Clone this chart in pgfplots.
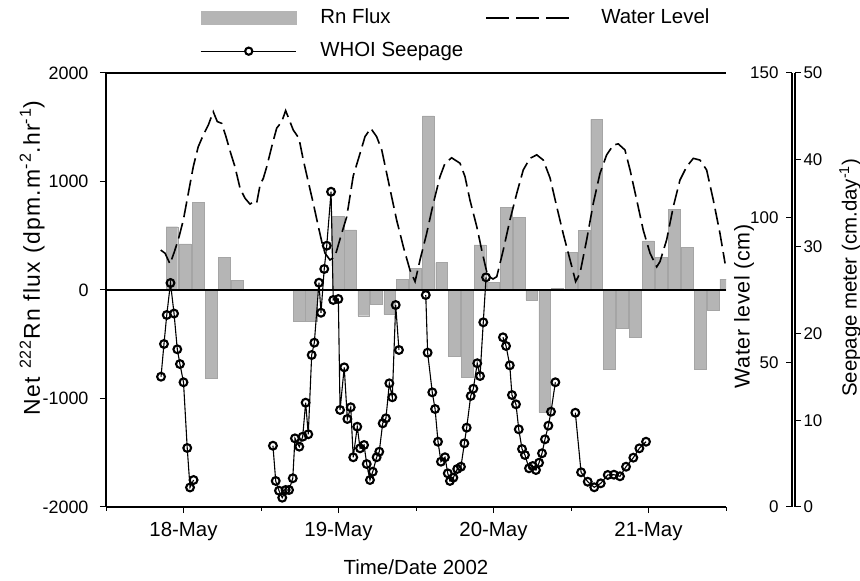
\documentclass[border=0pt]{standalone}
\usepackage{fontspec}
\setmainfont{Liberation Sans}
\usepackage{pgfplots}
\pgfplotsset{compat=1.18}
\definecolor{barfill}{RGB}{181,181,181}
\definecolor{baredge}{RGB}{165,165,165}
\newcommand{\lab}{\fontsize{20.5}{24}\selectfont}
\newcommand{\ticksize}{\fontsize{18}{21}\selectfont}
\newcommand{\rticksize}{\fontsize{17}{20}\selectfont}
\pgfplotsset{
  seep/.style={black, line width=1.1bp, mark=o, mark size=3.9bp,
    mark options={black, line width=2.1bp, fill=white}},
}

% Rn flux, 2-hourly bars (day of May, dpm/m2/hr)
\pgfplotstableread{
x y
17.925 583
18.010 424
18.094 805
18.177 -814
18.261 298
18.345 92
18.745 -286
18.826 -290
18.997 676
19.077 553
19.163 -237
19.245 -129
19.330 -224
19.412 101
19.495 200
19.579 1604
19.665 252
19.746 -614
19.829 -808
19.912 415
19.999 71
20.082 759
20.165 670
20.247 -92
20.330 -1128
20.412 15
20.501 347
20.587 547
20.665 1573
20.748 -728
20.831 -353
20.916 -433
20.999 452
21.083 298
21.165 744
21.248 390
21.332 -728
21.416 -187
21.499 101
}\rnflux

% water level (cm)
\pgfplotstableread{
x y
17.853 88.8
17.881 87.7
17.913 84.0
17.939 87.9
17.966 92.3
17.999 99.2
18.031 108.4
18.063 117.6
18.095 124.5
18.128 128.6
18.160 132.0
18.192 136.6
18.218 133.2
18.246 132.6
18.274 128.0
18.305 122.2
18.332 117.6
18.365 110.1
18.397 106.7
18.429 104.7
18.455 105.5
18.472 105.0
18.494 111.3
18.515 113.6
18.537 117.6
18.569 124.5
18.601 130.9
18.634 133.2
18.659 137.0
18.708 130.3
18.745 127.4
18.773 119.9
18.805 112.4
18.837 105.0
18.870 96.9
18.892 91.7
18.913 87.7
18.945 85.4
18.977 86.5
19.014 93.4
19.053 100.3
19.095 114.4
19.139 122.2
19.171 128.0
19.208 130.9
19.246 128.0
19.279 123.4
19.311 115.3
19.343 107.2
19.375 99.2
19.418 90.0
19.461 81.9
19.494 77.9
19.526 85.4
19.569 94.6
19.612 105.0
19.655 114.2
19.687 118.8
19.730 120.7
19.784 118.8
19.816 114.2
19.848 106.1
19.892 96.9
19.924 88.8
19.956 81.3
19.973 79.6
19.997 78.8
20.021 79.6
20.063 88.8
20.106 99.2
20.150 108.4
20.192 116.5
20.235 120.5
20.279 121.7
20.321 119.9
20.365 113.7
20.408 103.8
20.450 94.4
20.494 85.4
20.530 77.9
20.558 80.8
20.601 92.3
20.644 105.0
20.687 115.3
20.730 121.7
20.773 125.1
20.805 125.5
20.848 123.4
20.881 116.5
20.924 106.1
20.966 95.7
21.010 87.7
21.053 83.0
21.074 84.8
21.117 92.3
21.160 103.8
21.203 113.0
21.246 117.6
21.289 120.5
21.332 119.9
21.375 116.5
21.418 106.1
21.461 94.6
21.494 84.2
}\wlevel

\begin{document}
\begin{tikzpicture}
\useasboundingbox (0,0) rectangle (860bp,581bp);

\begin{axis}[
  at={(106bp,74bp)}, anchor=south west,
  width=620bp, height=434bp, scale only axis,
  xmin=17.5, xmax=21.5, ymin=-2000, ymax=2000,
  axis x line*=box, axis y line*=left,
  xtick={18,19,20,21}, xticklabels={18-May,19-May,20-May,21-May},
  minor xtick={17.5,18.5,19.5,20.5,21.5},
  xtick pos=bottom,
  ytick={-2000,-1000,0,1000,2000}, yticklabels={-2000,-1000,0,1000,2000},
  tick align=outside, major tick length=6bp, minor tick length=3.5bp,
  tick style={black, line width=1bp},
  axis line style={line width=1.2bp},
  x tick label style={font=\lab, yshift=-6bp},
  y tick label style={font=\ticksize, xshift=-8bp},
  xlabel={Time/Date 2002},
  xlabel style={font=\lab, at={(axis description cs:0.5,-0.138)}, anchor=center},
  ylabel={Net \textsuperscript{222}Rn flux (dpm.m\textsuperscript{-2}.hr\textsuperscript{-1})},
  ylabel style={font={\fontsize{23}{26}\selectfont\addfontfeature{LetterSpace=6}},
    at={(axis description cs:-0.119,0.574)}, anchor=center},
  legend columns=2,
  legend cell align=left,
  legend style={at={(axis description cs:0.1516,1.1475)}, anchor=north west,
    draw=none, fill=none, inner sep=0pt, font=\lab,
    nodes={inner sep=0pt, text height=14bp, text depth=4bp},
    /tikz/every odd column/.append style={column sep=24bp},
    /tikz/every even column/.append style={column sep=22bp},
    row sep=15bp},
]
  \addplot[ybar, bar width=0.0755, fill=barfill, draw=baredge, line width=0.4bp,
    legend image code/.code={\fill[barfill] (0bp,-6.5bp) rectangle (95bp,6.5bp);}]
    table {\rnflux};
  \addplot[black, line width=1.2bp, forget plot] coordinates {(17.5,0) (21.5,0)};
  \addlegendimage{legend image code/.code={
    \draw[black, line width=1.5bp, dash pattern=on 23bp off 7bp] (0bp,0bp) -- (83bp,0bp);
    \path (91bp,0bp);}}
  \addlegendimage{legend image code/.code={
    \draw[black, line width=1.1bp] (0bp,0bp) -- (95bp,0bp);
    \draw[black, line width=2.1bp, fill=white] (48bp,0bp) circle (3.6bp);}}
  \legend{Rn Flux, Water Level, WHOI Seepage}
\end{axis}

% water level on the same box
\begin{axis}[
  at={(106bp,74bp)}, anchor=south west,
  width=620bp, height=434bp, scale only axis,
  xmin=17.5, xmax=21.5, ymin=0, ymax=150, hide axis,
]
  \addplot[black, line width=1.6bp, dash pattern=on 16bp off 6bp] table {\wlevel};
\end{axis}

% WHOI seepage meter (cm/day)
\begin{axis}[
  at={(106bp,74bp)}, anchor=south west,
  width=620bp, height=434bp, scale only axis,
  xmin=17.5, xmax=21.5, ymin=0, ymax=50, hide axis, clip=false,
]
  \addplot[seep] coordinates {
    (17.855,15.01) (17.874,18.78) (17.892,22.12) (17.916,25.81) (17.939,22.29)
    (17.960,18.17) (17.977,16.47) (18.000,14.37) (18.024,6.80) (18.042,2.25)
    (18.065,3.11)
  };
  \addplot[seep] coordinates {
    (18.577,7.06) (18.595,3.00) (18.616,1.88) (18.637,1.07) (18.659,1.96)
    (18.681,1.96) (18.705,3.31) (18.719,7.91) (18.747,6.95) (18.769,8.10)
    (18.788,12.02) (18.805,8.38) (18.827,17.51) (18.844,18.93) (18.874,25.84)
    (18.887,22.38) (18.908,27.42) (18.924,30.10) (18.952,36.32) (18.966,23.85)
    (18.999,23.96) (19.010,11.18) (19.037,16.09) (19.057,10.14) (19.079,11.49)
    (19.095,5.73) (19.121,9.25) (19.139,6.76) (19.165,7.14) (19.182,4.95)
    (19.203,3.11) (19.221,4.07) (19.246,5.73) (19.263,6.37) (19.285,9.64)
    (19.306,10.22) (19.328,14.25) (19.347,12.64) (19.369,23.27) (19.390,18.09)
  };
  \addplot[seep] coordinates {
    (19.563,24.42) (19.575,17.78) (19.605,13.21) (19.623,11.29) (19.642,7.52)
    (19.661,5.22) (19.687,5.73) (19.705,3.88) (19.719,3.00) (19.741,3.38)
    (19.766,4.38) (19.790,4.64) (19.812,7.34) (19.827,9.14) (19.853,12.79)
    (19.870,13.63) (19.895,16.56) (19.913,15.09) (19.934,21.28) (19.952,26.46)
  };
  \addplot[seep] coordinates {
    (20.061,19.55) (20.081,18.55) (20.105,16.32) (20.119,12.90) (20.145,11.83)
    (20.163,8.95) (20.184,6.68) (20.203,5.99) (20.229,4.46) (20.253,4.72)
    (20.274,4.26) (20.294,5.10) (20.313,6.19) (20.332,7.80) (20.354,9.37)
    (20.371,10.98) (20.399,14.37)
  };
  \addplot[seep] coordinates {
    (20.528,10.86) (20.565,4.00) (20.608,2.91) (20.650,2.27) (20.692,2.73)
    (20.737,3.69) (20.777,3.72) (20.816,3.54) (20.855,4.64) (20.902,5.68)
    (20.941,6.76) (20.984,7.52)
  };
\end{axis}

% water level scale
\begin{axis}[
  at={(792bp,74bp)}, anchor=south west,
  width=1bp, height=434bp, scale only axis,
  xmin=0, xmax=1, ymin=0, ymax=150,
  hide x axis, axis y line*=left,
  ytick={0,50,100,150}, yticklabels={0,50,100,150},
  tick align=outside, major tick length=6bp,
  tick style={black, line width=1bp},
  axis line style={line width=1.2bp},
  y tick label style={font=\rticksize, xshift=-4bp},
  ylabel={Water level (cm)},
  ylabel style={font={\fontsize{21.5}{25}\selectfont\addfontfeature{LetterSpace=3}},
    at={(axis description cs:0,0.462)}, anchor=center, yshift=48bp},
]
\end{axis}

% seepage meter scale
\begin{axis}[
  at={(795bp,74bp)}, anchor=south east,
  width=1bp, height=434bp, scale only axis,
  xmin=0, xmax=1, ymin=0, ymax=50,
  hide x axis, axis y line*=right,
  ytick={0,10,20,30,40,50}, yticklabels={0,10,20,30,40,50},
  tick align=outside, major tick length=6bp,
  tick style={black, line width=1bp},
  axis line style={line width=1.2bp},
  y tick label style={font=\rticksize, xshift=-1bp},
  ylabel={Seepage meter (cm.day\textsuperscript{-1})},
  ylabel style={font=\lab, at={(axis description cs:1,0.528)}, anchor=center, yshift=-55bp},
]
\end{axis}
\end{tikzpicture}
\end{document}
